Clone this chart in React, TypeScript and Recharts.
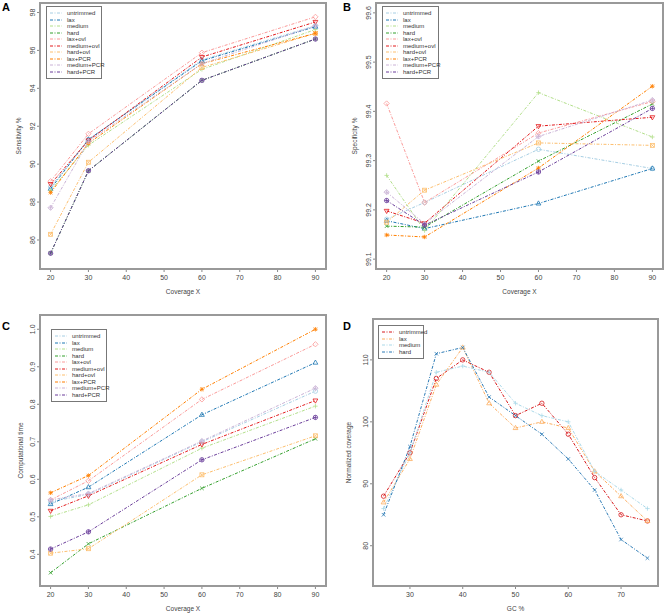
import { LineChart, Line, XAxis, YAxis, Legend } from 'recharts'

// panels A-C: trimming settings x sequencing coverage
const coverage = [20, 30, 60, 90]
const trimNames = ['untrimmed', 'lax', 'medium', 'hard', 'lax+ovl', 'medium+ovl', 'hard+ovl', 'lax+PCR', 'medium+PCR', 'hard+PCR']
const trimColors = ['#A6CEE3', '#1F78B4', '#B2DF8A', '#33A02C', '#FB9A99', '#E31A1C', '#FDBF6F', '#FF7F00', '#CAB2D6', '#6A3D9A']

// one row per trimming setting, same order as trimNames
const sensitivity = [
  [88.8, 91.3, 95.5, 97.3],
  [88.7, 91.3, 95.45, 97.25],
  [88.6, 91.0, 95.0, 97.1],
  [85.3, 89.65, 94.42, 96.6],
  [89.1, 91.6, 95.88, 97.77],
  [88.95, 91.25, 95.65, 97.5],
  [86.3, 90.1, 95.1, 96.9],
  [88.5, 91.1, 95.3, 96.9],
  [87.7, 91.2, 95.3, 97.3],
  [85.3, 89.65, 94.42, 96.6],
]
const specificity = [
  [99.181, 99.215, 99.323, 99.284],
  [99.178, 99.162, 99.213, 99.284],
  [99.27, 99.158, 99.438, 99.348],
  [99.167, 99.165, 99.299, 99.415],
  [99.416, 99.215, 99.356, 99.42],
  [99.198, 99.173, 99.37, 99.388],
  [99.175, 99.24, 99.336, 99.331],
  [99.149, 99.145, 99.285, 99.451],
  [99.236, 99.172, 99.349, 99.423],
  [99.219, 99.169, 99.277, 99.406],
]
const compTime = [
  [0.54, 0.56, 0.7, 0.835],
  [0.534, 0.579, 0.772, 0.911],
  [0.501, 0.532, 0.683, 0.795],
  [0.351, 0.428, 0.576, 0.708],
  [0.545, 0.596, 0.813, 0.96],
  [0.516, 0.556, 0.693, 0.81],
  [0.403, 0.415, 0.612, 0.716],
  [0.564, 0.61, 0.84, 1.0],
  [0.545, 0.562, 0.702, 0.843],
  [0.414, 0.46, 0.652, 0.765],
]

// panel D: GC bias
const gcPercent = [25, 30, 35, 40, 45, 50, 55, 60, 65, 70, 75]
const gcNames = ['untrimmed', 'lax', 'medium', 'hard']
const gcColors = ['#D7191C', '#FDAE61', '#ABD9E9', '#2C7BB6']
const gcCoverage = [
  [88, 95, 107, 110, 108, 101, 103, 98, 91, 85, 84],
  [87, 94, 106, 112, 103, 99, 100, 99, 92, 88, 84],
  [86, 95, 108, 109, 108, 103, 101, 100, 92, 89, 86],
  [85, 96, 111, 112, 104, 101, 98, 94, 89, 81, 78],
]

const coverageTicks = [20, 30, 40, 50, 60, 70, 80, 90]
const sensTicks = [86, 88, 90, 92, 94, 96, 98]
const specTicks = [99.1, 99.2, 99.3, 99.4, 99.5, 99.6]
const timeTicks = [0.4, 0.5, 0.6, 0.7, 0.8, 0.9, 1.0]
const gcTicks = [30, 40, 50, 60, 70]
const normTicks = [80, 90, 100, 110]

const FONT = '"Liberation Sans", Arial, sans-serif'
const TXT = '#444'
const BOX = '#999'
const DASH = '3 1.5 1 1.5'
const YW = 30
const XH = 20

function Marker({ cx, cy, pch, color }: any) {
  const r = 2.2
  const s = { stroke: color, strokeWidth: 0.8, fill: 'none' }
  const plus = <path d={`M${cx - r},${cy}H${cx + r}M${cx},${cy - r}V${cy + r}`} {...s} />
  const cross = <path d={`M${cx - r * 0.8},${cy - r * 0.8}L${cx + r * 0.8},${cy + r * 0.8}M${cx - r * 0.8},${cy + r * 0.8}L${cx + r * 0.8},${cy - r * 0.8}`} {...s} />
  const diamond = <path d={`M${cx},${cy - r * 1.2}L${cx + r * 1.2},${cy}L${cx},${cy + r * 1.2}L${cx - r * 1.2},${cy}Z`} {...s} />
  switch (pch) {
    case 1: return <circle cx={cx} cy={cy} r={r} {...s} />
    case 2: return <path d={`M${cx},${cy - r * 1.2}L${cx + r * 1.1},${cy + r * 0.7}L${cx - r * 1.1},${cy + r * 0.7}Z`} {...s} />
    case 3: return plus
    case 4: return cross
    case 5: return diamond
    case 6: return <path d={`M${cx},${cy + r * 1.2}L${cx + r * 1.1},${cy - r * 0.7}L${cx - r * 1.1},${cy - r * 0.7}Z`} {...s} />
    case 7: return <g><rect x={cx - r * 0.9} y={cy - r * 0.9} width={r * 1.8} height={r * 1.8} {...s} />{cross}</g>
    case 8: return <g>{plus}{cross}</g>
    case 9: return <g>{diamond}{plus}</g>
    default: return <g><circle cx={cx} cy={cy} r={r} {...s} />{plus}</g>
  }
}

function LegendBox({ names, colors, width }: any) {
  return (
    <div style={{ width, border: '1px solid #777', background: '#fff', padding: '3px 0', boxSizing: 'border-box', fontFamily: FONT }}>
      {names.map((n: string, i: number) => (
        <div key={n} style={{ display: 'flex', alignItems: 'center', height: 6.5, fontSize: 6, color: '#333' }}>
          <svg width={20} height={6} style={{ flex: 'none' }}>
            <line x1={3} y1={3} x2={15} y2={3} stroke={colors[i]} strokeWidth={1} strokeDasharray={DASH} />
          </svg>
          <span style={{ whiteSpace: 'nowrap' }}>{n}</span>
        </div>
      ))}
    </div>
  )
}

function YTick({ x, y, payload, fmt }: any) {
  return (
    <text x={x} y={y} transform={`rotate(-90 ${x} ${y})`} textAnchor="middle" fontSize={7} fill={TXT}>
      {fmt(payload.value)}
    </text>
  )
}

function Panel(p: any) {
  const rows = p.xs.map((x: number, i: number) => {
    const r: any = { x }
    p.series.forEach((s: number[], k: number) => { r['s' + k] = s[i] })
    return r
  })
  const m = p.margin
  const fw = 333 - m.left - YW - m.right
  const fh = p.height - m.top - m.bottom - XH
  return (
    <div style={{ position: 'absolute', left: p.left, top: p.top, width: 333, height: p.height }}>
      <div style={{ position: 'absolute', left: 0, top: 0 }}>
        <LineChart width={333} height={p.height} data={rows} margin={m}>
          <XAxis
            dataKey="x" type="number" domain={p.xDomain} ticks={p.xTicks} allowDataOverflow
            axisLine={{ stroke: BOX, strokeWidth: 2 }} tickSize={3} tickMargin={3} tickLine={{ stroke: '#888', strokeWidth: 1 }}
            tick={{ fontSize: 7, fill: TXT }} height={XH}
            label={{ value: p.xLabel, position: 'bottom', offset: 0, fontSize: 6.5, fill: TXT }}
          />
          <YAxis
            type="number" domain={p.yDomain} ticks={p.yTicks} allowDataOverflow width={YW}
            axisLine={{ stroke: BOX, strokeWidth: 2 }} tickSize={3} tickMargin={2} tickLine={{ stroke: '#888', strokeWidth: 1 }}
            tick={<YTick fmt={p.yFmt} />}
            label={{ value: p.yLabel, angle: -90, position: 'insideLeft', offset: p.yLabelOffset, fontSize: 6.5, fill: TXT, style: { textAnchor: 'middle' } }}
          />
          {p.series.map((_: number[], k: number) => (
            <Line
              key={k} dataKey={'s' + k} name={p.names[k]} type="linear" stroke={p.colors[k]} strokeWidth={1}
              strokeDasharray={DASH} isAnimationActive={false}
              dot={(d: any) => <Marker key={'m' + d.index} cx={d.cx} cy={d.cy} pch={k + 1} color={p.colors[k]} />}
              activeDot={false}
            />
          ))}
          <Legend
            layout="vertical" align="center" verticalAlign="middle"
            wrapperStyle={{ left: p.legendPos[0], top: p.legendPos[1], width: p.legendWidth }}
            content={() => <LegendBox names={p.names} colors={p.colors} width={p.legendWidth} />}
          />
        </LineChart>
      </div>
      <div style={{ position: 'absolute', left: m.left + YW - 1, top: m.top - 1, width: fw + 2, height: fh + 2, border: `2px solid ${BOX}`, boxSizing: 'border-box', pointerEvents: 'none' }} />
      <div style={{ position: 'absolute', left: p.letterPos[0], top: p.letterPos[1], fontSize: 11, fontWeight: 'bold', fontFamily: FONT, color: '#000' }}>
        {p.letter}
      </div>
    </div>
  )
}

export default function App() {
  const f0 = (v: number) => String(v)
  const f1 = (v: number) => v.toFixed(1)
  return (
    <div style={{ position: 'absolute', left: 0, top: 0, width: 666, height: 615, background: '#fff', fontFamily: FONT }}>
      <Panel
        letter="A" letterPos={[2, 1]} left={0} top={0} height={307}
        margin={{ top: 3, right: 7, bottom: 18, left: 10 }}
        xs={coverage} series={sensitivity} names={trimNames} colors={trimColors}
        xDomain={[17.2, 92.8]} yDomain={[84.47, 98.5]} xTicks={coverageTicks} yTicks={sensTicks} yFmt={f0}
        xLabel="Coverage X" yLabel="Sensitivity %" yLabelOffset={9}
        legendPos={[46, 6]} legendWidth={56}
      />
      <Panel
        letter="B" letterPos={[10, 1]} left={333} top={0} height={307}
        margin={{ top: 3, right: 3, bottom: 18, left: 13 }}
        xs={coverage} series={specificity} names={trimNames} colors={trimColors}
        xDomain={[17.2, 92.8]} yDomain={[99.08, 99.62]} xTicks={coverageTicks} yTicks={specTicks} yFmt={f1}
        xLabel="Coverage X" yLabel="Specificity %" yLabelOffset={9}
        legendPos={[49, 6]} legendWidth={57}
      />
      <Panel
        letter="C" letterPos={[2, 13]} left={0} top={307} height={308}
        margin={{ top: 8, right: 7, bottom: 9, left: 10 }}
        xs={coverage} series={compTime} names={trimNames} colors={trimColors}
        xDomain={[17.2, 92.8]} yDomain={[0.3156, 1.038]} xTicks={coverageTicks} yTicks={timeTicks} yFmt={f1}
        xLabel="Coverage X" yLabel="Computational time" yLabelOffset={11}
        legendPos={[51, 22]} legendWidth={56}
      />
      <Panel
        letter="D" letterPos={[10, 13]} left={333} top={307} height={308}
        margin={{ top: 12, right: 8, bottom: 9, left: 10 }}
        xs={gcPercent} series={gcCoverage} names={gcNames} colors={gcColors}
        xDomain={[23, 77]} yDomain={[73.5, 116.6]} xTicks={gcTicks} yTicks={normTicks} yFmt={f0}
        xLabel="GC %" yLabel="Normalized coverage" yLabelOffset={6}
        legendPos={[45, 18]} legendWidth={46}
      />
    </div>
  )
}
